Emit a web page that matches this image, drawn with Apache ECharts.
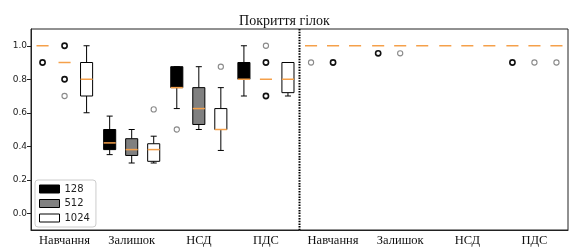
<!DOCTYPE html>
<html>
<head>
<meta charset="utf-8">
<script src="https://cdn.jsdelivr.net/npm/echarts@6/dist/echarts.min.js"></script>
<style>
  html, body { margin: 0; padding: 0; background: #fff; }
  #chart { width: 569px; height: 250px; }
</style>
</head>
<body>
<div id="chart"></div>
<script>
  // categories, repeated for the two panels
  const categories = ['Навчання', 'Залишок', 'НСД', 'ПДС'];
  const xCategories = categories.concat(categories);
  const sizes = ['128', '512', '1024'];
  const yTicks = [0, 0.2, 0.4, 0.6, 0.8, 1.0];

  // box stats per position: [min, q1, median, q3, max]
  const box128 = [
    [1, 1, 1, 1, 1], [0.35, 0.38, 0.42, 0.5, 0.58], [0.625, 0.75, 0.75, 0.875, 0.875], [0.7, 0.8, 0.8, 0.9, 1.0],
    [1, 1, 1, 1, 1], [1, 1, 1, 1, 1], [1, 1, 1, 1, 1], [1, 1, 1, 1, 1]
  ];
  const box512 = [
    [0.9, 0.9, 0.9, 0.9, 0.9], [0.3, 0.345, 0.38, 0.445, 0.5], [0.5, 0.53, 0.625, 0.75, 0.875], [0.8, 0.8, 0.8, 0.8, 0.8],
    [1, 1, 1, 1, 1], [1, 1, 1, 1, 1], [1, 1, 1, 1, 1], [1, 1, 1, 1, 1]
  ];
  const box1024 = [
    [0.6, 0.7, 0.8, 0.9, 1.0], [0.3, 0.31, 0.38, 0.415, 0.46], [0.375, 0.5, 0.5, 0.625, 0.75], [0.7, 0.72, 0.8, 0.9, 0.9],
    [1, 1, 1, 1, 1], [1, 1, 1, 1, 1], [1, 1, 1, 1, 1], [1, 1, 1, 1, 1]
  ];

  // outliers: [position, value, dark]
  const out128 = [[0, 0.9, 1], [2, 0.5, 0], [4, 0.9, 0], [5, 0.955, 1], [7, 0.9, 1]];
  const out512 = [[0, 1.0, 1], [0, 0.8, 1], [0, 0.7, 0], [3, 1.0, 0], [3, 0.9, 1], [3, 0.7, 1], [4, 0.9, 1], [5, 0.955, 0], [7, 0.9, 0]];
  const out1024 = [[1, 0.62, 0], [2, 0.875, 0], [7, 0.9, 0]];

  const FILLS = ['#000000', '#808080', '#ffffff'];
  const MEDIAN = '#f5a04a';
  const OFFSETS = [-0.328, 0, 0.328];  // fraction of band
  const BOX_W = 0.18;

  function boxRenderer(k) {
    return function (params, api) {
      const cat = api.value(0);
      const band = api.size([1, 0])[0];
      const cx = api.coord([cat, 0])[0] + OFFSETS[k] * band;
      const w = band * BOX_W;
      const y = v => api.coord([cat, v])[1];
      const lo = api.value(1), q1 = api.value(2), med = api.value(3), q3 = api.value(4), hi = api.value(5);
      const children = [];
      const line = { stroke: '#000', lineWidth: 1 };
      if (!(lo === hi)) {
        children.push(
          { type: 'line', shape: { x1: cx, y1: y(q3), x2: cx, y2: y(hi) }, style: line },
          { type: 'line', shape: { x1: cx, y1: y(lo), x2: cx, y2: y(q1) }, style: line },
          { type: 'line', shape: { x1: cx - w / 4, y1: y(hi), x2: cx + w / 4, y2: y(hi) }, style: line },
          { type: 'line', shape: { x1: cx - w / 4, y1: y(lo), x2: cx + w / 4, y2: y(lo) }, style: line },
          { type: 'rect', shape: { x: cx - w / 2, y: y(q3), width: w, height: y(q1) - y(q3) },
            style: { fill: FILLS[k], stroke: '#000', lineWidth: 1 } }
        );
      }
      children.push({ type: 'line', shape: { x1: cx - w / 2, y1: y(med), x2: cx + w / 2, y2: y(med) },
        style: { stroke: MEDIAN, lineWidth: 1.5 } });
      return { type: 'group', children: children };
    };
  }

  function outlierRenderer(k) {
    return function (params, api) {
      const cat = api.value(0);
      const band = api.size([1, 0])[0];
      const p = api.coord([cat, api.value(1)]);
      const dark = api.value(2) === 1;
      return {
        type: 'circle',
        shape: { cx: p[0] + OFFSETS[k] * band, cy: p[1], r: 2.6 },
        style: { fill: 'none', stroke: dark ? '#111' : '#8a8a8a', lineWidth: dark ? 1.6 : 1.1 }
      };
    };
  }

  function withIndex(rows) {
    return rows.map((r, i) => [i].concat(r));
  }

  const boxes = [box128, box512, box1024];
  const outs = [out128, out512, out1024];

  const series = [];
  sizes.forEach((name, k) => {
    series.push({
      name: name,
      type: 'custom',
      renderItem: boxRenderer(k),
      encode: { x: 0, y: [1, 2, 3, 4, 5] },
      data: withIndex(boxes[k]),
      itemStyle: { color: FILLS[k] },
      z: 3
    });
    series.push({
      name: name + ' outliers',
      type: 'custom',
      renderItem: outlierRenderer(k),
      encode: { x: 0, y: 1 },
      data: outs[k],
      z: 4
    });
  });

  // dotted divider between the two panels
  series.push({
    name: 'divider',
    type: 'custom',
    renderItem: function (params, api) {
      const band = api.size([1, 0])[0];
      const x = api.coord([api.value(0), 0])[0] - band / 2;
      const cs = params.coordSys;
      return {
        type: 'line',
        shape: { x1: x, y1: cs.y, x2: x, y2: cs.y + cs.height },
        style: { stroke: '#000', lineWidth: 2, lineDash: [1.5, 1.2] }
      };
    },
    encode: { x: 0 },
    data: [[categories.length]],
    z: 5
  });

  const chart = echarts.init(document.getElementById('chart'), null, { renderer: 'canvas' });

  chart.setOption({
    animation: false,
    backgroundColor: '#fff',
    title: {
      text: 'Покриття гілок',
      left: 'center',
      top: 9,
      textStyle: { fontFamily: '"Liberation Serif", serif', fontSize: 14, fontWeight: 'normal', color: '#111' }
    },
    legend: {
      orient: 'vertical',
      left: 35,
      top: 180,
      itemWidth: 20,
      itemHeight: 8,
      itemGap: 4.5,
      padding: [4, 6, 4, 4],
      borderColor: '#ccc',
      borderWidth: 1,
      borderRadius: 3,
      backgroundColor: '#fff',
      textStyle: { fontFamily: '"DejaVu Sans", sans-serif', fontSize: 10, color: '#222' },
      data: sizes.map((s, k) => ({
        name: s,
        icon: 'rect',
        itemStyle: { color: FILLS[k], borderColor: '#000', borderWidth: 1 }
      }))
    },
    grid: {
      left: 31, right: 1, top: 29, bottom: 20,
      show: true, borderColor: '#222', borderWidth: 1
    },
    xAxis: {
      type: 'category',
      data: xCategories,
      boundaryGap: true,
      axisLine: { onZero: false, lineStyle: { color: '#222' } },
      axisTick: { alignWithLabel: true, length: 3, lineStyle: { color: '#222' } },
      axisLabel: { interval: 0, margin: 4, fontFamily: '"Liberation Serif", serif', fontSize: 12.5, color: '#111' },
      splitLine: { show: false }
    },
    yAxis: {
      type: 'value',
      min: -0.1,
      max: 1.1,
      axisLine: { show: true, lineStyle: { color: '#222' } },
      axisTick: { show: true, length: 4, customValues: yTicks, lineStyle: { color: '#222' } },
      axisLabel: {
        customValues: yTicks,
        margin: 4,
        fontFamily: '"DejaVu Sans", sans-serif',
        fontSize: 9,
        color: '#222',
        formatter: v => v.toFixed(1)
      },
      splitLine: { show: false }
    },
    series: series
  });
</script>
</body>
</html>
